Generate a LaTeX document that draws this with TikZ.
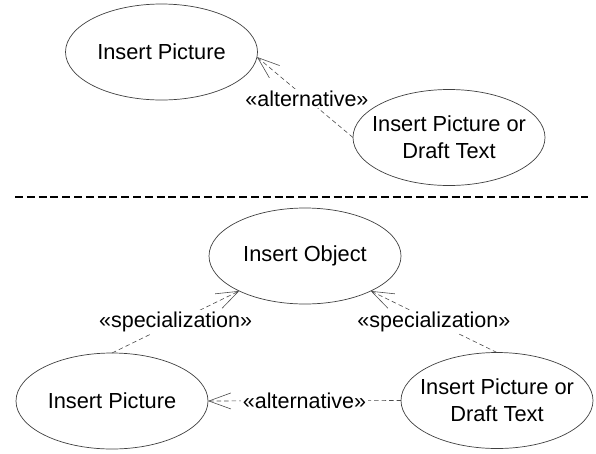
\documentclass[tikz,border=0pt]{standalone}
\usepackage{fontspec}
\setmainfont{Liberation Sans}
\usetikzlibrary{shapes.geometric,arrows.meta}

\tikzset{
  usecase/.style={ellipse, draw=black!75, line width=0.7pt,
    minimum width=192pt, minimum height=96pt,
    inner sep=-22pt, outer sep=0pt, align=center,
    font=\fontsize{21.8}{27}\selectfont},
  dep/.style={draw=black!70, line width=0.6pt, dash pattern=on 4.5pt off 3pt,
    -{Straight Barb[length=22pt,width=16pt]}},
  stereo/.style={fill=white, inner sep=1.5pt,
    font=\fontsize{21.5}{26}\selectfont},
  separator/.style={draw=black, line width=2pt, dash pattern=on 8pt off 3.8pt}
}

\begin{document}
\begin{tikzpicture}[x=1pt,y=-1pt]
  \useasboundingbox (0,0) rectangle (596,453);

  % upper part: alternative relation
  \node[usecase] (pic1) at (161.5,52) {Insert Picture};
  \node[usecase] (alt1) at (449,137.5) {Insert Picture or\\Draft Text};
  \draw[dep] (alt1.west) -- node[stereo, pos=0.48] {«alternative»} (pic1.-3);

  % separator line
  \coordinate (sepL) at (15,197);
  \coordinate (sepR) at (588,197);
  \draw[separator] (sepL) -- (sepR);

  % lower part: specializations of a common use case
  \node[usecase] (obj)  at (305,256) {Insert Object};
  \node[usecase] (pic2) at (112,401) {Insert Picture};
  \node[usecase] (alt2) at (497,400.5) {Insert Picture or\\Draft Text};

  \draw[dep] (pic2.north) -- node[stereo] {«specialization»} (obj.208);
  \draw[dep] (alt2.north) -- node[stereo] {«specialization»} (obj.332);
  \draw[dep] (alt2.west) -- node[stereo] {«alternative»} (pic2.east);
\end{tikzpicture}
\end{document}
